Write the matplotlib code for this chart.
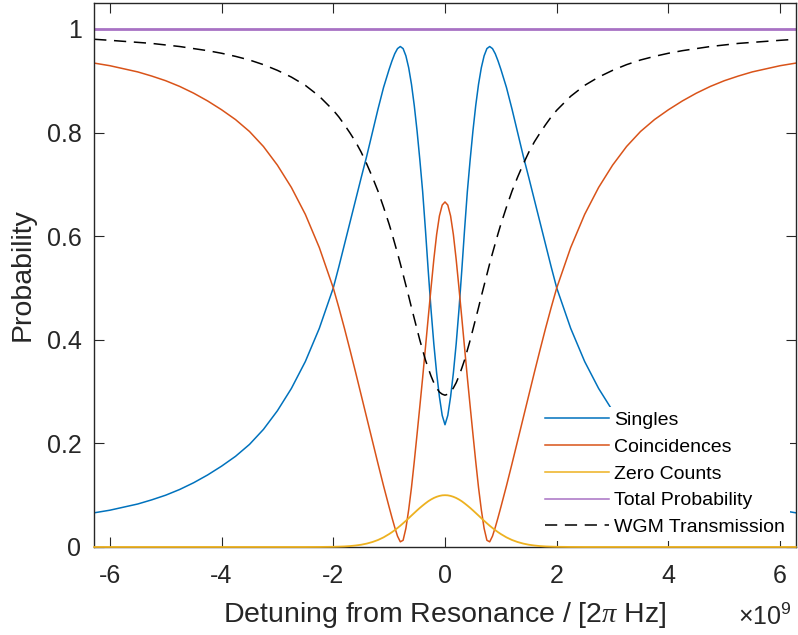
import numpy as np
import matplotlib
matplotlib.use("Agg")
import matplotlib.pyplot as plt
from matplotlib.ticker import FuncFormatter

plt.rcParams['font.family'] = ['Liberation Sans', 'DejaVu Sans']
plt.rcParams['mathtext.fontset'] = 'custom'
plt.rcParams['mathtext.rm'] = 'Liberation Sans'
plt.rcParams['mathtext.it'] = 'Liberation Serif:italic'
plt.rcParams['axes.unicode_minus'] = False

# detuning in units of 1e9 (2*pi Hz)
detuning = [-6.28, -6.0, -5.75, -5.5, -5.25, -5.0, -4.75, -4.5, -4.25, -4.0, -3.75, -3.5,
            -3.25, -3.0, -2.75, -2.5, -2.25, -2.0, -1.9, -1.8, -1.7, -1.6, -1.5, -1.4,
            -1.3, -1.2, -1.1, -1.0, -0.95, -0.9, -0.85, -0.8, -0.75, -0.7, -0.65, -0.6,
            -0.55, -0.5, -0.45, -0.4, -0.35, -0.3, -0.25, -0.2, -0.15, -0.1, -0.05, 0.0,
            0.05, 0.1, 0.15, 0.2, 0.25, 0.3, 0.35, 0.4, 0.45, 0.5, 0.55, 0.6,
            0.65, 0.7, 0.75, 0.8, 0.85, 0.9, 0.95, 1.0, 1.1, 1.2, 1.3, 1.4,
            1.5, 1.6, 1.7, 1.8, 1.9, 2.0, 2.25, 2.5, 2.75, 3.0, 3.25, 3.5,
            3.75, 4.0, 4.25, 4.5, 4.75, 5.0, 5.25, 5.5, 5.75, 6.0, 6.28]

singles = [0.066, 0.071, 0.077, 0.083, 0.091, 0.100, 0.111, 0.124, 0.139, 0.156, 0.175, 0.198,
           0.227, 0.263, 0.306, 0.358, 0.422, 0.500, 0.541, 0.584, 0.627, 0.670, 0.713, 0.755,
           0.800, 0.845, 0.887, 0.922, 0.938, 0.952, 0.962, 0.966, 0.962, 0.948, 0.925, 0.893,
           0.852, 0.803, 0.747, 0.686, 0.612, 0.533, 0.458, 0.392, 0.336, 0.290, 0.254, 0.236,
           0.254, 0.290, 0.336, 0.392, 0.458, 0.533, 0.612, 0.686, 0.747, 0.803, 0.852, 0.893,
           0.925, 0.948, 0.962, 0.966, 0.962, 0.952, 0.938, 0.922, 0.887, 0.845, 0.800, 0.755,
           0.713, 0.670, 0.627, 0.584, 0.541, 0.500, 0.422, 0.358, 0.306, 0.263, 0.227, 0.198,
           0.175, 0.156, 0.139, 0.124, 0.111, 0.100, 0.091, 0.083, 0.077, 0.071, 0.066]

coincidences = [0.934, 0.929, 0.923, 0.917, 0.909, 0.900, 0.889, 0.876, 0.861, 0.844, 0.825, 0.802,
                0.773, 0.737, 0.694, 0.642, 0.578, 0.500, 0.462, 0.422, 0.380, 0.337, 0.293, 0.249,
                0.205, 0.161, 0.118, 0.077, 0.057, 0.038, 0.021, 0.010, 0.013, 0.036, 0.072, 0.115,
                0.165, 0.218, 0.272, 0.327, 0.385, 0.443, 0.500, 0.555, 0.603, 0.639, 0.660, 0.666,
                0.660, 0.639, 0.603, 0.555, 0.500, 0.443, 0.385, 0.327, 0.272, 0.218, 0.165, 0.115,
                0.072, 0.036, 0.013, 0.010, 0.021, 0.038, 0.057, 0.077, 0.118, 0.161, 0.205, 0.249,
                0.293, 0.337, 0.380, 0.422, 0.462, 0.500, 0.578, 0.642, 0.694, 0.737, 0.773, 0.802,
                0.825, 0.844, 0.861, 0.876, 0.889, 0.900, 0.909, 0.917, 0.923, 0.929, 0.934]

zero_counts = [0.0, 0.0, 0.0, 0.0, 0.0, 0.0, 0.0, 0.0, 0.0, 0.0, 0.0, 0.0,
               0.0, 0.0, 0.0, 0.0, 0.0001, 0.0004, 0.0007, 0.0011, 0.0018, 0.0029, 0.0044, 0.0066,
               0.0096, 0.0135, 0.0186, 0.025, 0.0286, 0.0325, 0.0367, 0.0411, 0.0458, 0.0506, 0.0556, 0.0607,
               0.0657, 0.0707, 0.0755, 0.080, 0.0843, 0.0883, 0.0917, 0.0946, 0.0969, 0.0986, 0.0997, 0.100,
               0.0997, 0.0986, 0.0969, 0.0946, 0.0917, 0.0883, 0.0843, 0.080, 0.0755, 0.0707, 0.0657, 0.0607,
               0.0556, 0.0506, 0.0458, 0.0411, 0.0367, 0.0325, 0.0286, 0.025, 0.0186, 0.0135, 0.0096, 0.0066,
               0.0044, 0.0029, 0.0018, 0.0011, 0.0007, 0.0004, 0.0001, 0.0, 0.0, 0.0, 0.0, 0.0,
               0.0, 0.0, 0.0, 0.0, 0.0, 0.0, 0.0, 0.0, 0.0, 0.0, 0.0]

total_prob = [1.0] * len(detuning)

wgm_transmission = [0.980, 0.978, 0.976, 0.974, 0.972, 0.969, 0.966, 0.962, 0.958, 0.953, 0.947, 0.940,
                    0.931, 0.920, 0.907, 0.891, 0.870, 0.843, 0.830, 0.815, 0.799, 0.782, 0.762, 0.739,
                    0.714, 0.687, 0.656, 0.623, 0.605, 0.586, 0.567, 0.547, 0.526, 0.505, 0.484, 0.462,
                    0.441, 0.420, 0.399, 0.380, 0.361, 0.345, 0.330, 0.317, 0.307, 0.299, 0.295, 0.293,
                    0.295, 0.299, 0.307, 0.317, 0.330, 0.345, 0.361, 0.380, 0.399, 0.420, 0.441, 0.462,
                    0.484, 0.505, 0.526, 0.547, 0.567, 0.586, 0.605, 0.623, 0.656, 0.687, 0.714, 0.739,
                    0.762, 0.782, 0.799, 0.815, 0.830, 0.843, 0.870, 0.891, 0.907, 0.920, 0.931, 0.940,
                    0.947, 0.953, 0.958, 0.962, 0.966, 0.969, 0.972, 0.974, 0.976, 0.978, 0.980]

fig = plt.figure(figsize=(7.98, 6.35), dpi=100)
ax = fig.add_axes([94 / 798, 1 - 547 / 635, 702 / 798, 544 / 635])

ax.plot(detuning, singles, color='#0072BD', lw=1.1, label='Singles')
ax.plot(detuning, coincidences, color='#D95319', lw=1.1, label='Coincidences')
ax.plot(detuning, zero_counts, color='#EDB120', lw=1.3, label='Zero Counts', zorder=3, clip_on=False)
ax.plot(detuning, total_prob, color='#a872c4', lw=2.0, label='Total Probability')
ax.plot(detuning, wgm_transmission, color='black', lw=1.1, linestyle=(0, (8, 5)),
        label='WGM Transmission')

ax.set_xlim(-2 * np.pi, 2 * np.pi)
ax.set_ylim(0, 1.05)
ax.set_xticks([-6, -4, -2, 0, 2, 4, 6])
ax.set_yticks([0, 0.2, 0.4, 0.6, 0.8, 1.0])
fmt = FuncFormatter(lambda v, p: '%g' % v)
ax.xaxis.set_major_formatter(fmt)
ax.yaxis.set_major_formatter(fmt)

ax.tick_params(direction='in', length=7, width=0.8, top=True, right=True,
               colors='#262626', labelsize=18)
ax.tick_params(axis='x', pad=12)
ax.tick_params(axis='y', pad=9)
for s in ax.spines.values():
    s.set_color('#262626')
    s.set_linewidth(1.0)

ax.set_xlabel(r'Detuning from Resonance / [2$\pi$ Hz]', fontsize=20.5, color='#262626', labelpad=9)
ax.set_ylabel('Probability', fontsize=20.5, color='#262626', labelpad=8)
fig.text(0.992, 1 - 617 / 635, r'$\times\mathregular{10^{9}}$', ha='right', va='center',
         fontsize=18, color='#262626')

leg = ax.legend(loc='lower right', bbox_to_anchor=(0.9915, 0.011), fontsize=14,
                handlelength=3.3, handletextpad=0.25, labelspacing=0.47, borderpad=0.25,
                borderaxespad=0, frameon=True, fancybox=False, facecolor='white',
                edgecolor='none', framealpha=1)
# legend handles are drawn thin in the original
for h in leg.get_lines():
    h.set_linewidth(1.1)

fig.savefig('out.png', dpi=100)
